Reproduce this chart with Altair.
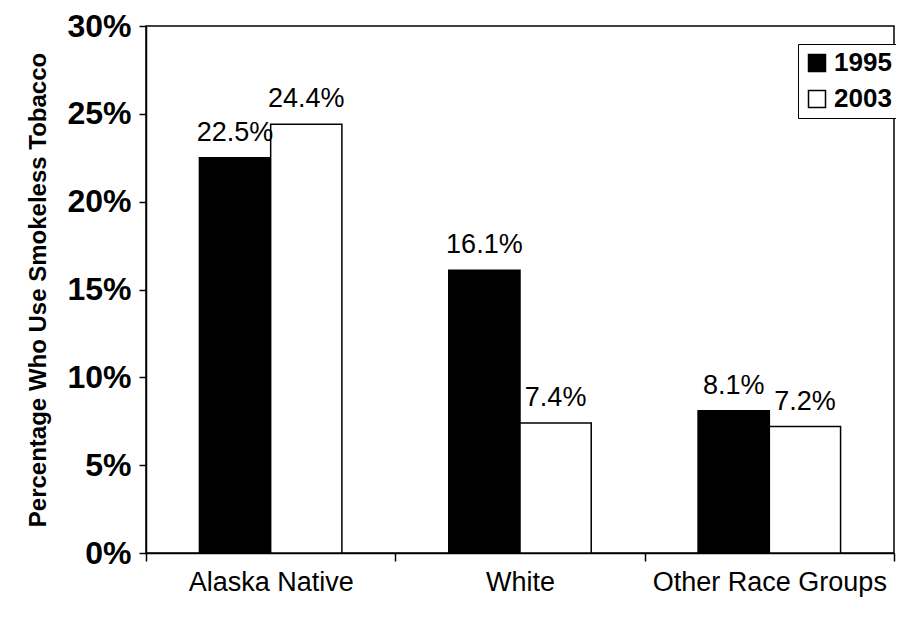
import altair as alt
import pandas as pd

groups = ["Alaska Native", "White", "Other Race Groups"]
years = ["1995", "2003"]
v1995 = [22.5, 16.1, 8.1]
v2003 = [24.4, 7.4, 7.2]
y_ticks = [0, 5, 10, 15, 20, 25, 30]

rows = []
for g, a, b in zip(groups, v1995, v2003):
    rows.append({"group": g, "year": "1995", "value": a, "label": f"{a:.1f}%"})
    rows.append({"group": g, "year": "2003", "value": b, "label": f"{b:.1f}%"})
df = pd.DataFrame(rows)

FONT = "Liberation Sans"

x = alt.X(
    "group:N",
    sort=groups,
    scale=alt.Scale(paddingInner=0, paddingOuter=0),
    axis=alt.Axis(
        title=None, labelAngle=0, labelFontSize=27, labelFont=FONT,
        labelColor="black", labelLimit=0, tickBand="extent", tickSize=8,
        tickColor="black", tickWidth=1.5, domainColor="black", domainWidth=1.5,
        labelPadding=8,
    ),
)
xo = alt.XOffset("year:N", sort=years, scale=alt.Scale(paddingOuter=0.75, paddingInner=0))
y = alt.Y(
    "value:Q",
    scale=alt.Scale(domain=[0, 30]),
    axis=alt.Axis(
        values=y_ticks, labelExpr="datum.value + '%'",
        title="Percentage Who Use Smokeless Tobacco",
        titleFont=FONT, titleFontSize=24, titleFontWeight="bold", titleColor="black",
        titlePadding=16,
        labelFont=FONT, labelFontSize=32, labelFontWeight="bold", labelColor="black",
        labelPadding=8, tickSize=7, tickColor="black", tickWidth=1.5,
        domainColor="black", domainWidth=1.5, grid=False,
    ),
)

color = alt.Color(
    "year:N",
    scale=alt.Scale(domain=years, range=["black", "white"]),
    legend=alt.Legend(
        title=None, orient="none", legendX=652, legendY=18, direction="vertical",
        symbolType="square", symbolSize=289, symbolStrokeColor="black",
        symbolStrokeWidth=1.5, labelFontSize=26, labelFontWeight="bold",
        labelFont=FONT, labelColor="black", labelOffset=4, strokeColor="black",
        fillColor="white", padding=6, rowPadding=10,
    ),
)

bars = alt.Chart(df).mark_bar(stroke="black", strokeWidth=1.5).encode(
    x=x, xOffset=xo, y=y, color=color
)
text = alt.Chart(df).mark_text(
    dy=-11, baseline="bottom", fontSize=27, font=FONT, color="black"
).encode(x=x, xOffset=xo, y=y, text="label:N")

chart = (
    alt.layer(bars, text)
    .properties(
        width=748, height=527,
        padding={"left": 138, "top": 18, "right": 2, "bottom": 50},
        autosize="none",
    )
    .configure(background="white")
    .configure_view(stroke="black", strokeWidth=1.5)
)

chart.save("out.html", embed_options={"renderer": "svg", "actions": False})
